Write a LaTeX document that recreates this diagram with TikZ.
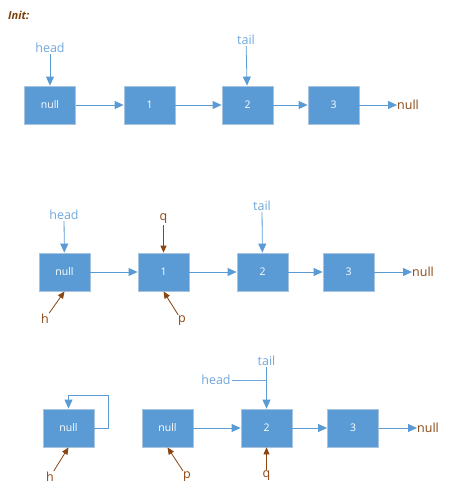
\documentclass[tikz,border=0pt]{standalone}
\usepackage{fontspec}
\setmainfont{Open Sans}
\usetikzlibrary{arrows.meta}
\definecolor{boxfill}{HTML}{5B9BD5}
\definecolor{boxline}{HTML}{A8C3DE}
\definecolor{arrowblue}{HTML}{5B9BD5}
\definecolor{lblblue}{HTML}{6FA8DC}
\definecolor{brownc}{HTML}{8A4510}
\definecolor{initc}{HTML}{7A3E08}
\tikzset{
  cell/.style={draw=boxline, line width=0.8pt, fill=boxfill, minimum width=51pt, minimum height=38pt, inner sep=0pt, text=white, font=\fontsize{10.5}{12}\selectfont},
  arr/.style={draw=arrowblue, line width=0.8pt, -{Triangle[length=9pt,width=8pt]}},
  barr/.style={draw=brownc, line width=0.8pt, -{Triangle[length=7pt,width=6pt]}},
  plain/.style={draw=lblblue, line width=0.8pt},
  bluelbl/.style={text=lblblue, inner sep=1pt, font=\fontsize{12.5}{14}\selectfont},
  brownlbl/.style={text=brownc, inner sep=1pt, font=\fontsize{12.5}{14}\selectfont},
  endnull/.style={text=brownc, inner sep=0pt, anchor=west, font=\fontsize{12.5}{14}\selectfont},
}
\begin{document}
\begin{tikzpicture}[x=1pt,y=-1pt]
\useasboundingbox (0,0) rectangle (449,495);
\node[anchor=west, text=initc, font=\bfseries\itshape\fontsize{11}{13}\selectfont, inner sep=0pt] (init) at (8,15) {Init:};

% Row 1
\node[cell] (a0) at (50,105) {null};
\node[cell] (a1) at (149.5,105) {1};
\node[cell] (a2) at (247.5,105) {2};
\node[cell] (a3) at (333.5,105) {3};
\node[endnull] (anull) at (397,105) {null};
\node[bluelbl] (ahead) at (50,48) {head};
\node[bluelbl] (atail) at (246,40) {tail};
\draw[arr] (a0) -- (a1);
\draw[arr] (a1) -- (a2);
\draw[arr] (a2) -- (a3);
\draw[arr] (a3) -- (anull);
\draw[arr] (ahead) -- (a0);
\draw[arr] (atail) -- (a2);

% Row 2
\node[cell] (b0) at (64.5,272) {null};
\node[cell] (b1) at (163.5,272) {1};
\node[cell] (b2) at (262.5,272) {2};
\node[cell] (b3) at (348.5,272) {3};
\node[endnull] (bnull) at (412,272) {null};
\node[bluelbl] (bhead) at (64,215) {head};
\node[bluelbl] (btail) at (262,206) {tail};
\node[brownlbl] (bq) at (163.5,219) {q};
\node[brownlbl] (bh) at (45,319) {h};
\node[brownlbl] (bp) at (182,321) {p};
\draw[arr] (b0) -- (b1);
\draw[arr] (b1) -- (b2);
\draw[arr] (b2) -- (b3);
\draw[arr] (b3) -- (bnull);
\draw[arr] (bhead) -- (b0);
\draw[arr] (btail) -- (b2);
\draw[barr] (bq) -- (b1);
\draw[barr] (bh) -- (b0.south);
\draw[barr] (bp) -- (b1.south);

% Row 3
\node[cell] (c0) at (68.5,428) {null};
\node[cell] (c1) at (167.5,428) {null};
\node[cell] (c2) at (266.5,428) {2};
\node[cell] (c3) at (353,428) {3};
\node[endnull] (cnull) at (417,428) {null};
\node[bluelbl] (ctail) at (266.5,361) {tail};
\node[bluelbl] (chead) at (216,380) {head};
\node[brownlbl] (ch) at (50,477) {h};
\node[brownlbl] (cp) at (187,477) {p};
\node[brownlbl] (cq) at (266.5,476) {q};
\coordinate (loop) at (108,395);
\coordinate (join) at (266.5,380);
\draw[arr] (c0.east) -| (loop) -| (c0.north);
\draw[arr] (c1) -- (c2);
\draw[arr] (c2) -- (c3);
\draw[arr] (c3) -- (cnull);
\draw[arr] (ctail) -- (c2);
\draw[plain] (chead) -- (join);
\draw[barr] (ch) -- (c0.south);
\draw[barr] (cp) -- (c1.south);
\draw[barr] (cq) -- (c2);
\end{tikzpicture}
\end{document}
